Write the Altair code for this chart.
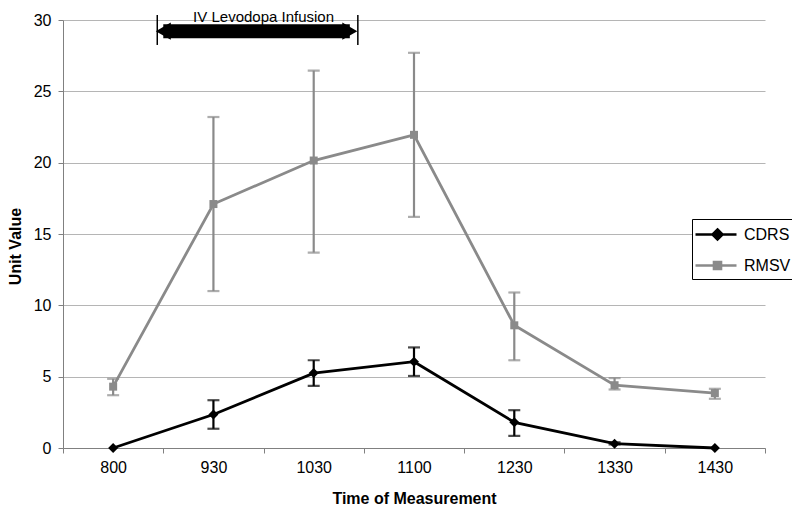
import altair as alt
import pandas as pd

# ---------------- data ----------------
times = ["800", "930", "1030", "1100", "1230", "1330", "1430"]
series_names = ["CDRS", "RMSV"]
series_colors = ["#000000", "#8a8a8a"]

cdrs_mean = [0.0, 2.35, 5.25, 6.05, 1.8, 0.3, 0.0]
cdrs_low = [0.0, 1.35, 4.35, 5.05, 0.85, 0.25, 0.0]
cdrs_high = [0.0, 3.35, 6.15, 7.05, 2.65, 0.4, 0.0]

rmsv_mean = [4.3, 17.1, 20.15, 21.95, 8.6, 4.4, 3.85]
rmsv_low = [3.7, 11.0, 13.7, 16.2, 6.15, 4.1, 3.45]
rmsv_high = [4.85, 23.2, 26.45, 27.7, 10.9, 4.9, 4.15]

y_ticks = [0, 5, 10, 15, 20, 25, 30]

# infusion annotation, in category-index units (800 = 0, 930 = 1, ...)
infusion_label = "IV Levodopa Infusion"
infusion_start = 0.44
infusion_end = 2.44
infusion_level = 29.22
infusion_text_level = 29.89

rows = []
for name, m, lo, hi in [("CDRS", cdrs_mean, cdrs_low, cdrs_high),
                        ("RMSV", rmsv_mean, rmsv_low, rmsv_high)]:
    for t, a, b, c in zip(times, m, lo, hi):
        rows.append({"time": t, "series": name, "mean": a, "low": b, "high": c})
df = pd.DataFrame(rows)

FONT = "Liberation Sans"

x_scale = alt.Scale(type="band", paddingInner=0, paddingOuter=0)
x_axis = alt.Axis(title="Time of Measurement", tickBand="extent", labelAngle=0,
                  grid=False, tickSize=5, labelPadding=6, titlePadding=15)
y_scale = alt.Scale(domain=[0, 30], nice=False)
y_axis = alt.Axis(title="Unit Value", values=y_ticks, grid=True, gridColor="#b5b5b5",
                  tickSize=5, labelPadding=7, titlePadding=10, titleY=226)


def X():
    return alt.X("time:N", sort=times, scale=x_scale, axis=x_axis, title="Time of Measurement")


def Y(field):
    return alt.Y(f"{field}:Q", scale=y_scale, axis=y_axis, title="Unit Value")


color = alt.Color("series:N", scale=alt.Scale(domain=series_names, range=series_colors), legend=None)

base = alt.Chart(df)

lines = base.mark_line(strokeWidth=2.8).encode(x=X(), y=Y("mean"), color=color)

err = base.transform_filter("datum.low < datum.high")
rules = err.mark_rule(strokeWidth=2.2).encode(x=X(), y=Y("low"), y2="high:Q", color=color)
caps_lo = err.mark_tick(thickness=2.2, size=12).encode(x=X(), y=Y("low"), color=color)
caps_hi = err.mark_tick(thickness=2.2, size=12).encode(x=X(), y=Y("high"), color=color)

pts_cdrs = base.transform_filter("datum.series == 'CDRS'").mark_point(
    shape="diamond", filled=True, size=100, opacity=1).encode(x=X(), y=Y("mean"), color=color)
pts_rmsv = base.transform_filter("datum.series == 'RMSV'").mark_point(
    shape="square", filled=True, size=64, opacity=1).encode(x=X(), y=Y("mean"), color=color)

# legend symbols: a line with the marker on it (stroke only, markers drawn as nested outlines)
legend_paths = [
    "M-1.2,0H2.9M1.0,-0.5L1.5,0L1.0,0.5L0.5,0ZM1.0,-0.25L1.25,0L1.0,0.25L0.75,0Z",
    "M-1.2,0H2.9M0.65,-0.35H1.35V0.35H0.65ZM0.85,-0.15H1.15V0.15H0.85Z",
]
legend_stroke_expr = (f"datum.value == '{series_names[0]}' ? '{series_colors[0]}' : '{series_colors[1]}'")
leg = alt.Legend(title=None, orient="none", legendX=629, legendY=199,
                 strokeColor="#000000", fillColor="white", padding=4,
                 symbolSize=400, symbolStrokeWidth=2.6, symbolOpacity=1,
                 symbolStrokeColor={"expr": legend_stroke_expr}, symbolFillColor="transparent",
                 labelFont=FONT, labelFontSize=16, labelOffset=25, rowPadding=9,
                 labelColor="black")
legend_layer = base.mark_point(filled=False, opacity=0).encode(
    x=X(), y=Y("mean"),
    color=alt.Color("series:N", scale=alt.Scale(domain=series_names, range=series_colors), legend=leg),
    shape=alt.Shape("series:N", scale=alt.Scale(domain=series_names, range=legend_paths), legend=leg),
)

main = alt.layer(lines, rules, caps_lo, caps_hi, pts_cdrs, pts_rmsv, legend_layer)

# ---------------- infusion annotation ----------------
xq = alt.Scale(domain=[-0.5, 6.5], nice=False, zero=False)
ann_df = pd.DataFrame({"x": [infusion_start + 0.06], "x2": [infusion_end - 0.08],
                       "y": [infusion_level]})
ends_df = pd.DataFrame({"x": [infusion_start, infusion_end],
                        "ylo": [28.25, 28.25], "yhi": [30.35, 30.35]})
tri_df = pd.DataFrame({"x": [infusion_start + 0.06, infusion_end - 0.08],
                       "y": [infusion_level, infusion_level],
                       "shape": ["triangle-left", "triangle-right"]})
text_df = pd.DataFrame({"x": [(infusion_start + infusion_end) / 2 + 0.06], "y": [infusion_text_level],
                        "label": [infusion_label]})

bar = alt.Chart(ann_df).mark_rule(strokeWidth=14, color="black").encode(
    x=alt.X("x:Q", scale=xq, axis=None), x2="x2:Q", y=Y("y"))
tris = alt.Chart(tri_df).mark_point(filled=True, size=300, color="black", opacity=1).encode(
    x=alt.X("x:Q", scale=xq, axis=None), y=Y("y"),
    shape=alt.Shape("shape:N", scale=None, legend=None))
ends = alt.Chart(ends_df).mark_rule(strokeWidth=1.5, color="black").encode(
    x=alt.X("x:Q", scale=xq, axis=None), y=Y("ylo"), y2="yhi:Q")
txt = alt.Chart(text_df).mark_text(font=FONT, fontSize=15, color="black", baseline="alphabetic").encode(
    x=alt.X("x:Q", scale=xq, axis=None), y=Y("y"), text="label:N")

ann = alt.layer(bar, tris, ends, txt)

chart = alt.layer(main, ann).resolve_scale(x="independent", shape="independent").properties(
    width=702, height=428,
    autosize=alt.AutoSizeParams(type="none"),
    padding={"left": 55, "top": 12, "right": 27, "bottom": 61},
).configure_view(stroke=None).configure_axis(
    labelFont=FONT, titleFont=FONT, labelFontSize=16, titleFontSize=16,
    titleFontWeight="bold", domainColor="#808080", tickColor="#808080",
    labelColor="black", titleColor="black",
)

chart.save("out.html", embed_options={"renderer": "svg", "actions": False})
